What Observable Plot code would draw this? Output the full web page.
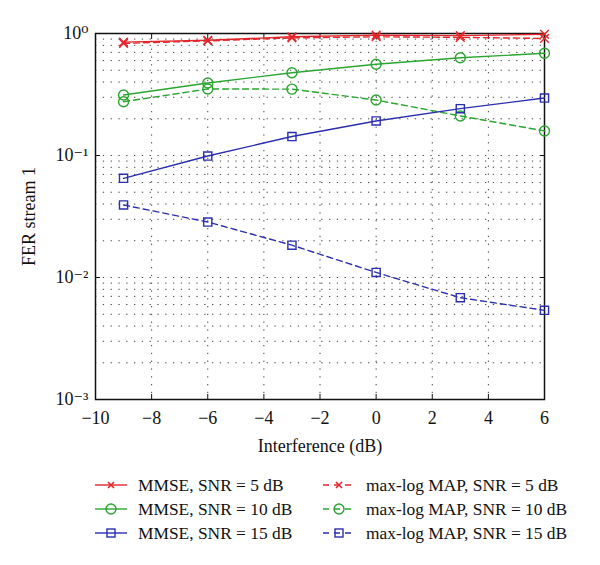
<!DOCTYPE html>
<html><head><meta charset="utf-8">
<script src="https://cdn.jsdelivr.net/npm/d3@7"></script>
<script src="https://cdn.jsdelivr.net/npm/@observablehq/plot@0.6"></script>
<style>
body{margin:0;background:#fff;font-family:"Liberation Serif","DejaVu Serif",serif;}
#legend{display:grid;grid-template-columns:228px 260px;margin-left:94px;margin-top:11px;font-size:17.4px;color:#111}
.item{display:flex;align-items:center;height:24px;white-space:nowrap}
.item svg{margin-right:10px;flex:none}
</style></head><body><div id="chart"></div><div id="legend"></div>
<script>
const interference = [-9, -6, -3, 0, 3, 6];
const mmse5   = [0.85, 0.88, 0.94, 0.97, 0.96, 0.985];
const maxlog5 = [0.83, 0.87, 0.92, 0.94, 0.93, 0.91];
const mmse10   = [0.313, 0.393, 0.477, 0.559, 0.633, 0.688];
const maxlog10 = [0.276, 0.351, 0.350, 0.285, 0.211, 0.159];
const mmse15   = [0.065, 0.099, 0.143, 0.192, 0.242, 0.296];
const maxlog15 = [0.0393, 0.0285, 0.0184, 0.0110, 0.00683, 0.00538];
const xTicks = [-10, -8, -6, -4, -2, 0, 2, 4, 6];
const yTicks = [1, 0.1, 0.01, 0.001];

const RED = "#e3262b", GREEN = "#2aa52f", BLUE = "#2a2fb0";
const series = [
  {name: "MMSE, SNR = 5 dB", values: mmse5, color: RED, symbol: "times", dash: null},
  {name: "max-log MAP, SNR = 5 dB", values: maxlog5, color: RED, symbol: "times", dash: "6,4"},
  {name: "MMSE, SNR = 10 dB", values: mmse10, color: GREEN, symbol: "circle", dash: null},
  {name: "max-log MAP, SNR = 10 dB", values: maxlog10, color: GREEN, symbol: "circle", dash: "6,4"},
  {name: "MMSE, SNR = 15 dB", values: mmse15, color: BLUE, symbol: "square", dash: null},
  {name: "max-log MAP, SNR = 15 dB", values: maxlog15, color: BLUE, symbol: "square", dash: "6,4"}
];
const rOf = {times: 4, circle: 5, square: 4.6};
const sup = {"0":"⁰","1":"¹","2":"²","3":"³","-":"⁻"};
const fmt = d => "10" + String(Math.round(Math.log10(d))).replace(/[-0-9]/g, c => sup[c]);
const FONT = '"Liberation Serif","DejaVu Serif",serif';

const marks = [
  Plot.gridY({stroke: "#222", strokeOpacity: 0.85, strokeDasharray: "1.3,6.5", strokeWidth: 1}),
  Plot.gridX(xTicks.slice(1, -1), {stroke: "#222", strokeOpacity: 0.85, strokeDasharray: "1.3,6.5", strokeWidth: 1}),
  Plot.frame({stroke: "#111", strokeWidth: 1.5}),
  Plot.axisX(xTicks, {tickSize: -5, tickPadding: 17, tickFormat: d => d < 0 ? "−" + (-d) : String(d), fontSize: 18, fontFamily: FONT,
    label: "Interference (dB)", labelAnchor: "center", labelArrow: "none", labelOffset: 52}),
  Plot.axisX(xTicks, {anchor: "top", tickSize: -5, tickFormat: () => "", label: null}),
  Plot.axisY(yTicks, {tickSize: -5, tickPadding: 12, tickFormat: fmt, fontSize: 18, fontFamily: FONT,
    label: "FER stream 1", labelAnchor: "center", labelArrow: "none", labelOffset: 73}),
  Plot.axisY(yTicks, {anchor: "right", tickSize: -5, tickFormat: () => "", label: null})
];
for (const s of series) {
  const d = interference.map((x, i) => ({x, y: s.values[i]}));
  marks.push(Plot.line(d, {x: "x", y: "y", stroke: s.color, strokeWidth: 1.4, strokeDasharray: s.dash}));
  marks.push(Plot.dot(d, {x: "x", y: "y", stroke: s.color, symbol: s.symbol, r: rOf[s.symbol], strokeWidth: 1.4, fill: "none"}));
}

const chart = Plot.plot({
  width: 600, height: 462,
  marginLeft: 95, marginRight: 56, marginTop: 33, marginBottom: 63,
  style: {fontFamily: FONT, fontSize: "18px", color: "#111", background: "#fff"},
  x: {domain: [-10, 6]},
  y: {type: "log", domain: [0.001, 1]},
  marks
});
document.getElementById("chart").appendChild(chart);

// legend (below the SVG)
const legend = document.getElementById("legend");
for (const s of series) {
  const item = document.createElement("div");
  item.className = "item";
  const w = 34, h = 14;
  const svg = d3.create("svg").attr("width", w).attr("height", h);
  svg.append("line").attr("x1", 1).attr("x2", w - 1).attr("y1", h / 2).attr("y2", h / 2)
    .attr("stroke", s.color).attr("stroke-width", 1.4).attr("stroke-dasharray", s.dash ? "6,5" : null);
  const cx = w / 2, cy = h / 2;
  if (s.symbol === "times") {
    svg.append("path").attr("d", `M${cx-3},${cy-3}L${cx+3},${cy+3}M${cx-3},${cy+3}L${cx+3},${cy-3}`).attr("stroke", s.color).attr("stroke-width", 1.6);
  } else if (s.symbol === "circle") {
    svg.append("circle").attr("cx", cx).attr("cy", cy).attr("r", 5).attr("fill", "none").attr("stroke", s.color).attr("stroke-width", 1.4);
  } else {
    svg.append("rect").attr("x", cx - 4).attr("y", cy - 4).attr("width", 8).attr("height", 8).attr("fill", "none").attr("stroke", s.color).attr("stroke-width", 1.4);
  }
  item.appendChild(svg.node());
  const span = document.createElement("span");
  span.textContent = s.name;
  item.appendChild(span);
  legend.appendChild(item);
}
</script></body></html>
